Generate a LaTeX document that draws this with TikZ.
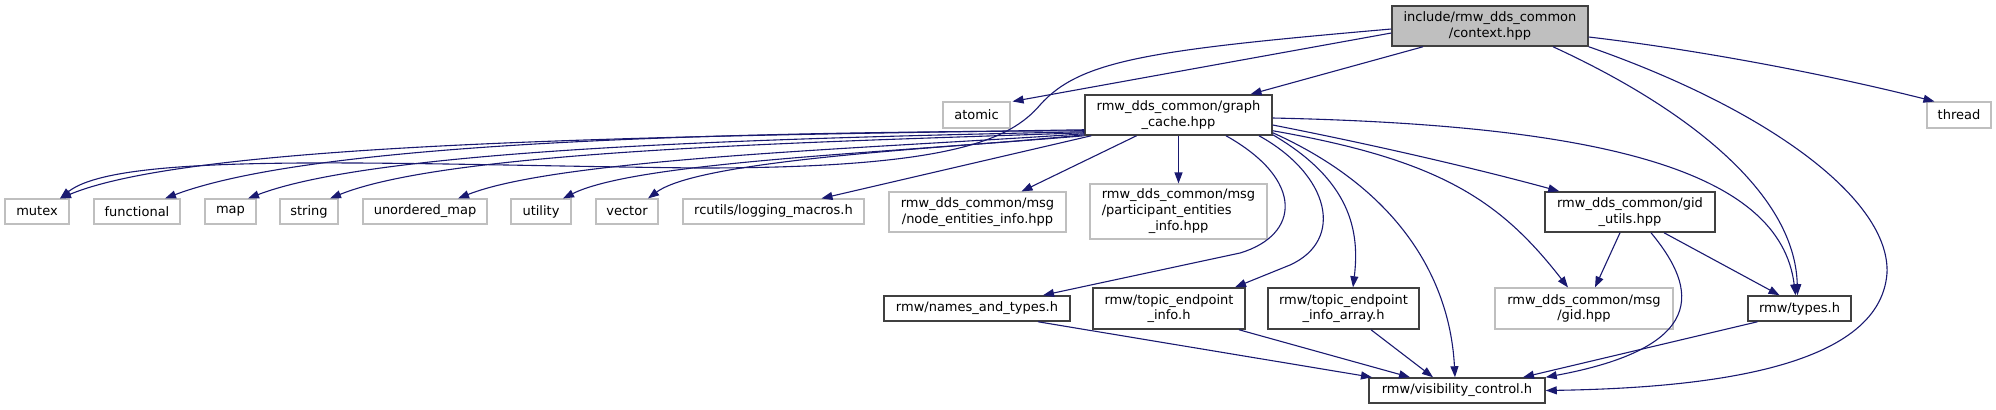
\documentclass[tikz,border=0pt]{standalone}
\usepackage{fontspec}
\setmainfont{DejaVu Sans}
\usetikzlibrary{arrows.meta,calc}
\definecolor{edgecol}{HTML}{191970}
\definecolor{bord}{HTML}{404040}
\definecolor{gbord}{HTML}{BFBFBF}
\definecolor{rootfill}{HTML}{BFBFBF}
\begin{document}
\begin{tikzpicture}[x=0.5pt,y=-0.5pt,
  box/.style={draw=bord, line width=0.75pt, fill=white, inner sep=0pt, align=center,
    font=\fontsize{6.5pt}{7.85pt}\selectfont, text=black},
  gbox/.style={box, draw=gbord, line width=0.55pt},
  root/.style={box, fill=rootfill},
  sz/.style 2 args={minimum width=#1*0.5pt, minimum height=#2*0.5pt},
  arr/.style={draw=edgecol, line width=0.55pt, -{Triangle[length=5.5pt,width=4pt]}}]
\useasboundingbox (0,0) rectangle (1996,409);

% nodes
\node[root, sz={196}{40}] (ctx) at (1490,26) {include/rmw\_dds\_common\\/context.hpp};
\node[gbox, sz={67}{26}] (atomic) at (976.5,115) {atomic};
\node[box, sz={187}{40}] (gc) at (1178.5,115) {rmw\_dds\_common/graph\\\_cache.hpp};
\node[gbox, sz={64}{26}] (thread) at (1959,115) {thread};
\node[gbox, sz={64}{25}] (mutex) at (37,211.5) {mutex};
\node[gbox, sz={86}{25}] (functional) at (137,211.5) {functional};
\node[gbox, sz={51}{25}] (map) at (230.5,211.5) {map};
\node[gbox, sz={58}{25}] (string) at (309,211.5) {string};
\node[gbox, sz={124}{25}] (umap) at (425,211.5) {unordered\_map};
\node[gbox, sz={60}{25}] (utility) at (541,211.5) {utility};
\node[gbox, sz={62}{25}] (vector) at (627,211.5) {vector};
\node[gbox, sz={181}{25}] (rcutils) at (773.5,211.5) {rcutils/logging\_macros.h};
\node[gbox, sz={177}{40}] (nei) at (977.5,212) {rmw\_dds\_common/msg\\/node\_entities\_info.hpp};
\node[gbox, sz={177}{55}] (pei) at (1178.5,211.5) {\begin{tabular}{@{}l@{}}rmw\_dds\_common/msg\\/participant\_entities\\\multicolumn{1}{@{}c@{}}{\_info.hpp}\end{tabular}};
\node[box, sz={170}{40}] (gidu) at (1630,212) {rmw\_dds\_common/gid\\\_utils.hpp};
\node[box, sz={186}{25}] (nat) at (977,308.5) {rmw/names\_and\_types.h};
\node[box, sz={152}{41}] (tei) at (1169,308.5) {rmw/topic\_endpoint\\\_info.h};
\node[box, sz={151}{41}] (teia) at (1343.5,308.5) {rmw/topic\_endpoint\\\_info\_array.h};
\node[gbox, sz={178}{41}] (gid) at (1584,308.5) {rmw\_dds\_common/msg\\/gid.hpp};
\node[box, sz={103}{25}] (types) at (1799.5,308.5) {rmw/types.h};
\node[box, sz={176}{25}] (vis) at (1457,390.5) {rmw/visibility\_control.h};

% edges from context.hpp
\draw[arr] ($(ctx.west)+(0,7)$) -- ($(atomic.north east)+(2,0)$);
\draw[arr] ($(ctx.south)+(-67,0)$) -- ($(gc.north)+(72,0)$);
\draw[arr] ($(ctx.west)+(0,3)$) .. controls (1150,50) and (1080,60) .. (1040,105)
   .. controls (1010,140) and (950,168) .. (700,168)
   .. controls (400,165) and (120,150) .. ($(mutex.north)+(23,0)$);
\draw[arr] ($(ctx.east)+(0,11)$) .. controls (1700,50) and (1830,75) .. ($(thread.north west)+(8,0)$);
\draw[arr] ($(ctx.south)+(63,0)$) .. controls (1680,105) and (1795,190) .. ($(types.north)+(-2,0)$);
\draw[arr] (ctx.south east) .. controls (1770,110) and (1890,200) .. (1887,273)
   .. controls (1880,370) and (1700,388) .. (vis.east);

% edges from graph_cache.hpp
\draw[arr] ($(gc.south west)+(0,-6)$) .. controls (700,136) and (200,140) .. ($(mutex.north)+(23,0)$);
\draw[arr] ($(gc.south west)+(0,-5)$) .. controls (750,132) and (320,140) .. ($(functional.north)+(28,0)$);
\draw[arr] ($(gc.south west)+(0,-4)$) .. controls (780,138) and (380,148) .. ($(map.north)+(17.5,0)$);
\draw[arr] ($(gc.south west)+(0,-3)$) .. controls (820,142) and (450,150) .. ($(string.north)+(21,0)$);
\draw[arr] ($(gc.south west)+(0,-2)$) .. controls (880,148) and (560,158) .. ($(umap.north)+(33,0)$);
\draw[arr] ($(gc.south west)+(0,-1)$) .. controls (920,152) and (640,160) .. ($(utility.north)+(22,0)$);
\draw[arr] (gc.south west) .. controls (940,148) and (700,160) .. ($(vector.north)+(21,0)$);
\draw[arr] ($(gc.south west)+(7,0)$) -- ($(rcutils.north)+(48,0)$);
\draw[arr] ($(gc.south)+(-42,0)$) -- ($(nei.north)+(44,0)$);
\draw[arr] (gc.south) -- (pei.north);
\draw[arr] ($(gc.south)+(47.5,0)$) .. controls (1305,180) and (1300,235) .. (1240,253)
   -- ($(nat.north)+(66,0)$);
\draw[arr] ($(gc.south)+(80.5,0)$) .. controls (1330,175) and (1345,240) .. (1290,265)
   -- ($(tei.north)+(66,0)$);
\draw[arr] ($(gc.south east)+(0,-1)$) .. controls (1350,180) and (1360,230) .. ($(teia.north)+(9.5,0)$);
\draw[arr] ($(gc.south east)+(0,-3)$) .. controls (1400,190) and (1450,280) .. ($(vis.north)+(-2,0)$);
\draw[arr] ($(gc.south east)+(0,-5)$) .. controls (1440,160) and (1500,200) .. ($(gid.north)+(-16,0)$);
\draw[arr] ($(gc.east)+(0,10)$) .. controls (1400,150) and (1500,175) .. ($(gidu.north west)+(15,0)$);
\draw[arr] ($(gc.east)+(0,3)$) .. controls (1600,125) and (1780,170) .. ($(types.north)+(-4,0)$);

% edges from gid_utils.hpp
\draw[arr] ($(gidu.south)+(-10,0)$) -- ($(gid.north)+(11,0)$);
\draw[arr] ($(gidu.south)+(34,0)$) -- ($(types.north)+(-20,0)$);
\draw[arr] ($(gidu.south)+(21,0)$) .. controls (1690,280) and (1720,345) .. (vis.north east);

% edges into visibility_control.h
\draw[arr] ($(types.south)+(-42,0)$) -- ($(vis.north)+(66,0)$);
\draw[arr] ($(tei.south)+(70,0)$) -- ($(vis.north)+(-47,0)$);
\draw[arr] ($(teia.south)+(27.5,0)$) -- ($(vis.north)+(-24,0)$);
\draw[arr] ($(nat.south)+(61,0)$) -- ($(vis.north)+(-85,0)$);
\end{tikzpicture}
\end{document}
